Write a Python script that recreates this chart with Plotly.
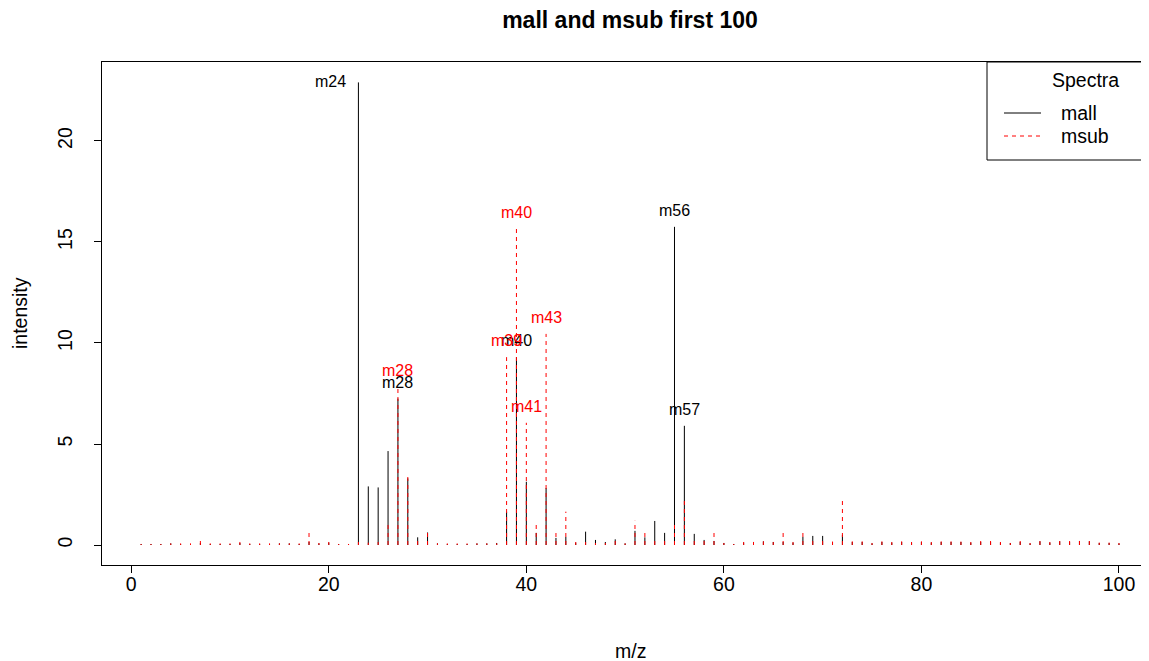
import plotly.graph_objects as go

# ---- data ----
mz_index = list(range(1, 101))

mall = [0.05, 0.05, 0.05, 0.08, 0.05, 0.05, 0.10, 0.05, 0.05, 0.05,
        0.10, 0.05, 0.05, 0.05, 0.08, 0.08, 0.05, 0.15, 0.08, 0.12,
        0.05, 0.05, 22.9, 2.90, 2.85, 4.65, 7.25, 3.30, 0.38, 0.62,
        0.08, 0.05, 0.05, 0.05, 0.08, 0.08, 0.10, 1.65, 9.30, 3.13,
        0.60, 2.82, 0.35, 0.40, 0.12, 0.66, 0.25, 0.15, 0.28, 0.08,
        0.70, 0.38, 1.19, 0.60, 15.75, 5.90, 0.55, 0.25, 0.20, 0.10,
        0.05, 0.12, 0.15, 0.18, 0.15, 0.15, 0.12, 0.40, 0.45, 0.45,
        0.15, 0.50, 0.15, 0.15, 0.08, 0.15, 0.12, 0.15, 0.12, 0.15,
        0.12, 0.15, 0.15, 0.15, 0.12, 0.15, 0.15, 0.12, 0.10, 0.15,
        0.08, 0.18, 0.12, 0.18, 0.15, 0.20, 0.18, 0.10, 0.10, 0.08]

msub = [0.05, 0.05, 0.05, 0.08, 0.08, 0.08, 0.20, 0.08, 0.08, 0.08,
        0.15, 0.08, 0.08, 0.08, 0.08, 0.08, 0.08, 0.66, 0.10, 0.15,
        0.05, 0.05, 0.15, 0.12, 0.15, 1.05, 7.80, 3.50, 0.30, 0.60,
        0.08, 0.08, 0.08, 0.08, 0.08, 0.08, 0.08, 9.30, 15.65, 6.05,
        1.15, 10.45, 0.66, 1.65, 0.15, 0.15, 0.10, 0.10, 0.20, 0.08,
        1.20, 0.70, 0.20, 0.30, 1.10, 2.20, 0.20, 0.20, 0.66, 0.10,
        0.05, 0.15, 0.15, 0.18, 0.15, 0.66, 0.15, 0.66, 0.20, 0.20,
        0.17, 2.20, 0.18, 0.18, 0.10, 0.18, 0.15, 0.18, 0.15, 0.18,
        0.15, 0.18, 0.18, 0.17, 0.15, 0.20, 0.20, 0.15, 0.10, 0.20,
        0.10, 0.22, 0.15, 0.22, 0.20, 0.25, 0.22, 0.12, 0.12, 0.10]

mall_labelled = [23, 27, 39, 55, 56]
msub_labelled = [27, 38, 39, 40, 42]
left_labelled = [23]

x_ticks = [0, 20, 40, 60, 80, 100]
y_ticks = [0, 5, 10, 15, 20]

title_text = "mall and msub first 100"
x_title = "m/z"
y_title = "intensity"
legend_title = "Spectra"
series_names = ["mall", "msub"]
series_colors = ["black", "#FF0000"]
FONT = "Liberation Sans, Arial, sans-serif"

# page body has an 8px margin: figure is drawn 8px right/down
W, H = 1141, 653
L, R_, T, B = 94, 1141, 54, 557


def px(xp):  # reference pixel -> paper
    return (xp - 8 - L) / (R_ - L)


def py(yp):
    return (B - (yp - 8)) / (B - T)


def stems(xs, ys):
    sx, sy = [], []
    for a, b in zip(xs, ys):
        sx += [a, a, None]
        sy += [0, b, None]
    return sx, sy


fig = go.Figure()
for name, vals, col, dash in [(series_names[0], mall, series_colors[0], "solid"),
                              (series_names[1], msub, series_colors[1], "4px,4px")]:
    sx, sy = stems(mz_index, vals)
    fig.add_trace(go.Scatter(x=sx, y=sy, mode="lines", name=name,
                             line=dict(color=col, width=1, dash=dash),
                             hoverinfo="skip", showlegend=False))

LBL = 16
annotations = []
for idx in mall_labelled:
    v = mall[idx - 1]
    if idx in left_labelled:
        annotations.append(dict(x=idx, y=v, text="m%d" % (idx + 1), showarrow=False,
                                xanchor="right", yanchor="middle", xshift=-10, yshift=1,
                                font=dict(family=FONT, size=LBL, color="black")))
    else:
        annotations.append(dict(x=idx, y=v, text="m%d" % (idx + 1), showarrow=False,
                                xanchor="center", yanchor="bottom", yshift=6,
                                font=dict(family=FONT, size=LBL, color="black")))
for idx in msub_labelled:
    v = msub[idx - 1]
    annotations.append(dict(x=idx, y=v, text="m%d" % (idx + 1), showarrow=False,
                            xanchor="center", yanchor="bottom", yshift=6,
                            font=dict(family=FONT, size=LBL, color=series_colors[1])))

BASE = 19.5
shapes = [
    dict(type="rect", xref="paper", yref="paper", x0=px(987), x1=px(1175),
         y0=py(160), y1=py(62), line=dict(color="black", width=1)),
    dict(type="line", xref="paper", yref="paper", x0=px(1004), x1=px(1041),
         y0=py(113), y1=py(113), line=dict(color=series_colors[0], width=1)),
    dict(type="line", xref="paper", yref="paper", x0=px(1004), x1=px(1041),
         y0=py(136), y1=py(136), line=dict(color=series_colors[1], width=1, dash="4px,4px")),
]
annotations += [
    dict(xref="paper", yref="paper", x=px(1085), y=py(80), text=legend_title, showarrow=False,
         xanchor="center", yanchor="middle", font=dict(family=FONT, size=BASE, color="black")),
    dict(xref="paper", yref="paper", x=px(1059), y=py(113), text=series_names[0], showarrow=False,
         xanchor="left", yanchor="middle", font=dict(family=FONT, size=BASE, color="black")),
    dict(xref="paper", yref="paper", x=px(1059), y=py(136), text=series_names[1], showarrow=False,
         xanchor="left", yanchor="middle", font=dict(family=FONT, size=BASE, color="black")),
    dict(xref="paper", yref="paper", x=px(630), y=py(651), text=x_title, showarrow=False,
         xanchor="center", yanchor="middle", font=dict(family=FONT, size=BASE, color="black")),
    dict(xref="paper", yref="paper", x=px(20), y=py(313), text=y_title, showarrow=False,
         textangle=-90, xanchor="center", yanchor="middle",
         font=dict(family=FONT, size=BASE, color="black")),
]

fig.update_layout(
    width=W, height=H,
    margin=dict(l=L, r=W - R_, t=T, b=H - B, autoexpand=False),
    paper_bgcolor="white", plot_bgcolor="white",
    title=dict(text="<b>%s</b>" % title_text, x=(630 - 8) / W, xref="container", xanchor="center",
               y=1 - (20 - 8) / H, yref="container", yanchor="middle",
               font=dict(family=FONT, size=23, color="black")),
    font=dict(family=FONT, size=BASE, color="black"),
    shapes=shapes, annotations=annotations,
    showlegend=False,
)
fig.update_xaxes(range=[-2.96, 103.04], tickvals=x_ticks, ticks="outside", ticklen=7,
                 tickcolor="black", showline=True, linecolor="black", linewidth=1, mirror=True,
                 showgrid=False, zeroline=False, tickfont=dict(size=BASE), automargin=False,
                 ticklabelstandoff=-5)
fig.update_yaxes(range=[-0.99, 23.91], tickvals=y_ticks, ticks="outside", ticklen=7,
                 tickcolor="black", showline=True, linecolor="black", linewidth=1, mirror=False,
                 showgrid=False, zeroline=False, tickangle=-90, tickfont=dict(size=BASE),
                 ticklabelstandoff=14, automargin=False)

fig.write_html("out.html")
